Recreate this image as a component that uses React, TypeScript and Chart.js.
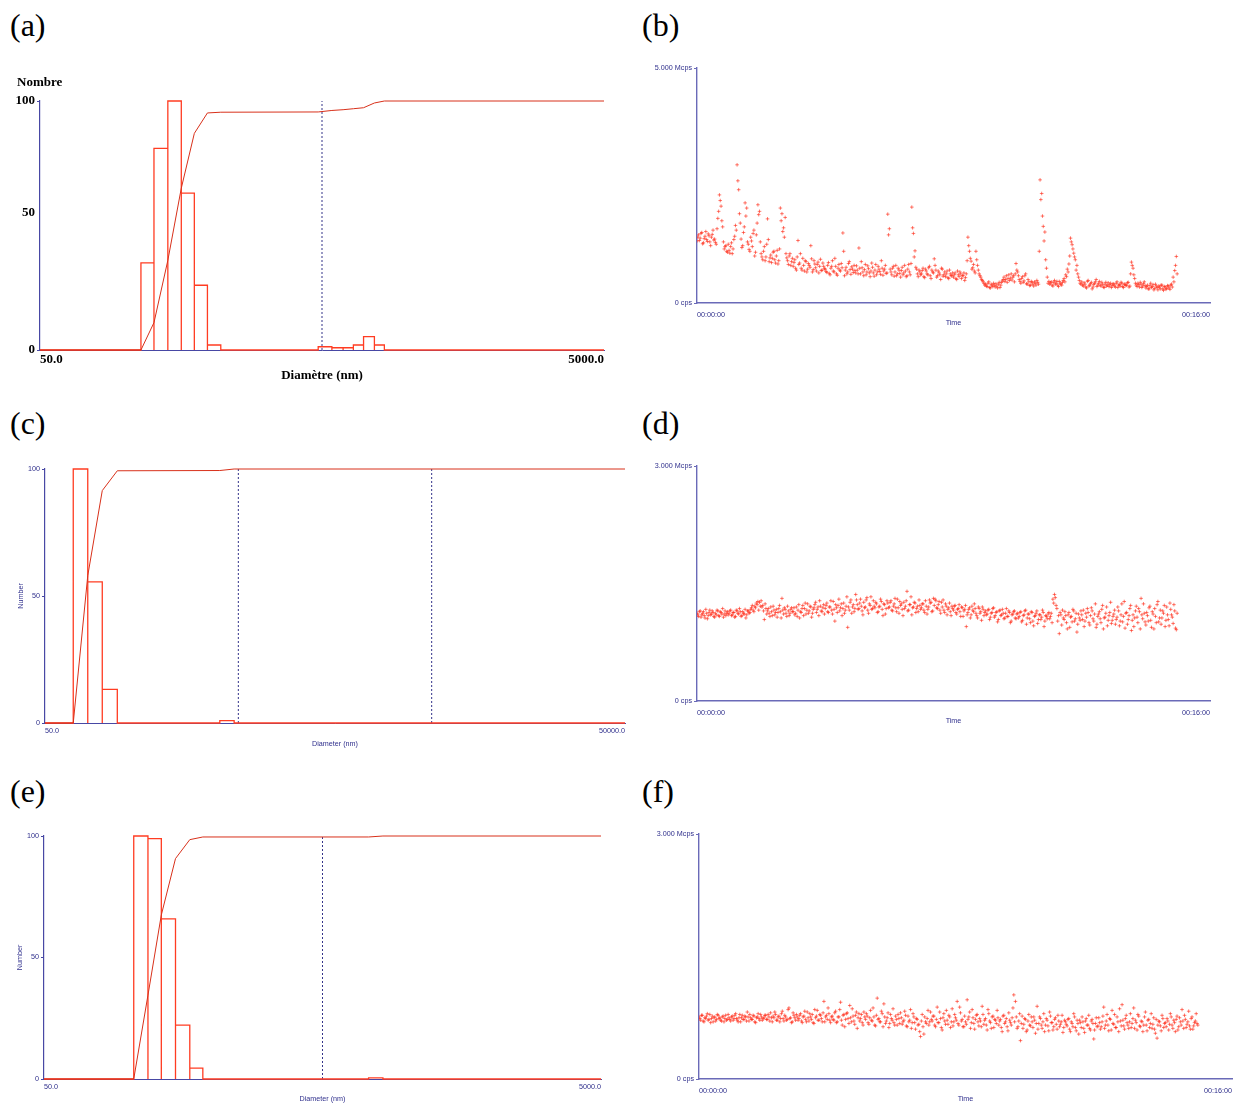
import React, { useEffect, useRef } from 'react';
import { Chart, registerables } from 'chart.js';

Chart.register(...registerables);

// ---------------- colours / fonts ----------------
const AXIS_BLUE = '#4848a4';
const TIME_AXIS_BLUE = '#6a6ab8';
const TEXT_BLUE = '#2f2f8c';
const DASH_BLUE = '#34348a';
const RED_BAR = '#ff3c22';
const RED_CUM = '#d8301a';
const RED_PT = 'rgba(255,42,22,0.62)';
const SANS = '"Liberation Sans", Arial, sans-serif';
const SERIF = '"Liberation Serif", "Times New Roman", serif';
const SMALL_FONT = { family: SANS, size: 7.2 };
const BOLD_SERIF = { family: SERIF, size: 13, weight: 'bold' as const };

// ---------------- panel (a): number distribution ----------------
const aBinLo = [114, 126.8, 142, 158.5, 176.3, 196.2, 484.7, 542, 594, 646, 702, 767];
const aBinHi = [126.8, 142, 158.5, 176.3, 196.2, 218.8, 542, 594, 646, 702, 767, 832];
const aCounts = [35, 81, 100, 63, 26, 2, 1.3, 0.9, 0.9, 2, 5.4, 2];
const aCumX = [50, 114, 126.8, 142, 158.5, 176.3, 196.2, 218.8, 484.7, 542, 594, 646, 702, 767, 832, 5000];
const aCumY = [0, 0, 11, 36, 65, 87, 95.2, 95.5, 95.6, 96.2, 96.5, 96.9, 97.3, 99.2, 100, 100];
const aMarkers = [500];
const aXTicks = [50, 5000];
const aYTicks = [0, 100];
const aMidLabel = '50'; // printed label placed as in the original figure

// ---------------- panel (c) ----------------
const cBinLo = [70, 83.2, 98.9, 401];
const cBinHi = [83.2, 98.9, 118.3, 475.6];
const cCounts = [100, 55.6, 13.2, 0.9];
const cCumX = [50, 70, 83.2, 98.9, 118.3, 401, 475.6, 50000];
const cCumY = [0, 0, 58, 91.5, 99.3, 99.4, 100, 100];
const cMarkers = [500, 5000];
const cXTicks = [50, 50000];
const cYTicks = [0, 50, 100];

// ---------------- panel (e) ----------------
const eBinLo = [105, 118.1, 131.9, 148.3, 166.9, 732];
const eBinHi = [118.1, 131.9, 148.3, 166.9, 185.9, 824];
const eCounts = [100, 98.9, 65.9, 22.2, 4.5, 0.5];
const eCumX = [50, 105, 118.1, 131.9, 148.3, 166.9, 185.9, 732, 824, 5000];
const eCumY = [0, 0, 34.5, 67.5, 90.7, 98.5, 99.6, 99.6, 100, 100];
const eMarkers = [500];
const eXTicks = [50, 5000];
const eYTicks = [0, 50, 100];

// ---------------- count-rate traces (Mcps) ----------------
// two interleaved read-outs, each one value every 3 s (second one offset by 1.5 s)
const SAMPLE_STEP_MIN = 0.05;
const SECOND_OFFSET_MIN = 0.025;
const timeTicks = [0, 16];

const bRate = [
  1.32, 1.45, 1.38, 1.50, 1.28, 1.42, 1.35, 1.47, 1.30, 1.40, 1.55, 1.36, 1.25, 1.80, 2.30, 2.06, 1.62, 1.15, 1.22, 1.08,
  1.12, 1.20, 1.05, 1.35, 1.65, 2.94, 2.41, 1.70, 1.18, 1.50, 2.13, 2.02, 1.25, 1.10, 1.32, 1.48, 1.00, 1.45, 2.09, 1.95,
  1.05, 0.92, 1.20, 0.98, 1.79, 0.88, 1.02, 0.95, 1.10, 0.85, 1.12, 0.90, 2.02, 1.90, 1.60, 1.82, 0.96, 0.82, 1.05, 0.88,
  0.78, 0.92, 0.70, 1.33, 0.85, 0.74, 0.95, 0.68, 0.88, 0.72, 0.80, 1.22, 0.66, 0.90, 0.75, 0.82, 0.64, 0.93, 0.70, 0.78,
  0.72, 0.65, 0.86, 0.60, 0.78, 0.68, 0.95, 0.62, 0.74, 0.70, 0.84, 1.49, 0.58, 0.76, 0.66, 0.88, 0.61, 0.72, 0.80, 0.64,
  0.70, 1.17, 0.62, 0.75, 0.58, 0.82, 0.66, 0.73, 0.56, 0.85, 0.64, 0.70, 0.60, 0.78, 0.67, 0.90, 0.59, 0.72, 0.63, 1.89,
  1.58, 0.66, 0.74, 0.57, 0.80, 0.62, 0.70, 0.55, 0.76, 0.64, 0.68, 0.58, 0.82, 0.60, 2.04, 1.48, 1.11, 0.72, 0.56, 0.66,
  0.62, 0.74, 0.54, 0.68, 0.60, 0.78, 0.52, 0.66, 0.94, 0.70, 0.58, 0.64, 0.50, 0.72, 0.60, 0.56, 0.68, 0.52, 0.62, 0.58,
  0.55, 0.64, 0.50, 0.60, 0.66, 0.52, 0.58, 0.48, 0.62, 1.40, 1.10, 0.89, 0.75, 0.68, 1.10, 0.80, 0.62, 0.55, 0.48, 0.42,
  0.40, 0.35, 0.45, 0.32, 0.38, 0.42, 0.34, 0.36, 0.40, 0.33, 0.44, 0.50, 0.46, 0.58, 0.52, 0.48, 0.62, 0.55, 0.45, 0.84,
  0.66, 0.50, 0.42, 0.56, 0.47, 0.62, 0.40, 0.45, 0.38, 0.44, 0.36, 0.42, 0.48, 0.40, 2.62, 2.33, 1.63, 1.51, 0.74, 0.42,
  0.40, 0.45, 0.36, 0.48, 0.42, 0.38, 0.46, 0.40, 0.44, 0.52, 0.60, 0.72, 0.83, 1.38, 1.24, 1.06, 0.92, 0.80, 0.55, 0.42,
  0.45, 0.36, 0.40, 0.32, 0.48, 0.38, 0.44, 0.34, 0.42, 0.50, 0.38, 0.46, 0.36, 0.40, 0.33, 0.44, 0.38, 0.35, 0.42, 0.37,
  0.40, 0.34, 0.45, 0.38, 0.36, 0.42, 0.33, 0.40, 0.38, 0.44, 0.36, 0.87, 0.74, 0.52, 0.38, 0.42, 0.34, 0.40, 0.36, 0.45,
  0.32, 0.38, 0.30, 0.42, 0.35, 0.28, 0.40, 0.33, 0.36, 0.30, 0.38, 0.27, 0.34, 0.31, 0.36, 0.29, 0.40, 0.55, 0.69, 0.99,
];
const bRate2 = [
  1.40, 1.33, 1.48, 1.26, 1.37, 1.52, 1.31, 1.43, 1.22, 1.46, 1.34, 1.29, 1.58, 1.95, 2.18, 1.75, 1.30, 1.20, 1.10, 1.25,
  1.06, 1.28, 1.15, 1.42, 1.55, 2.60, 1.90, 1.36, 1.22, 1.62, 1.85, 1.30, 1.14, 1.40, 1.20, 1.55, 1.08, 1.70, 1.88, 1.30,
  0.98, 1.10, 0.90, 1.25, 1.35, 0.96, 0.86, 1.08, 0.92, 1.00, 0.83, 1.15, 1.75, 1.52, 1.40, 1.05, 0.90, 1.00, 0.80, 0.95,
  0.86, 0.74, 0.98, 0.82, 1.05, 0.70, 0.80, 0.90, 0.66, 0.84, 0.76, 0.94, 0.71, 0.83, 0.68, 0.87, 0.78, 0.69, 0.85, 0.73,
  0.67, 0.80, 0.63, 0.74, 0.90, 0.66, 0.78, 0.59, 0.82, 0.68, 0.75, 1.10, 0.70, 0.62, 0.84, 0.71, 0.77, 0.65, 0.69, 0.79,
  0.62, 0.74, 0.88, 0.66, 0.71, 0.60, 0.79, 0.64, 0.68, 0.76, 0.57, 0.82, 0.66, 0.72, 0.61, 0.74, 0.68, 0.80, 0.64, 1.45,
  0.72, 0.60, 0.78, 0.66, 0.58, 0.74, 0.63, 0.69, 0.60, 0.80, 0.56, 0.72, 0.66, 0.84, 1.60, 0.98, 0.76, 0.62, 0.70, 0.60,
  0.69, 0.56, 0.72, 0.62, 0.75, 0.58, 0.70, 0.64, 0.80, 0.55, 0.68, 0.60, 0.74, 0.57, 0.66, 0.62, 0.54, 0.70, 0.58, 0.64,
  0.60, 0.52, 0.68, 0.56, 0.62, 0.58, 0.64, 0.54, 0.90, 1.22, 0.95, 0.72, 0.82, 0.64, 0.92, 0.70, 0.58, 0.50, 0.45, 0.38,
  0.36, 0.42, 0.33, 0.40, 0.35, 0.38, 0.41, 0.32, 0.44, 0.38, 0.47, 0.55, 0.50, 0.44, 0.60, 0.53, 0.49, 0.58, 0.62, 0.70,
  0.58, 0.46, 0.52, 0.44, 0.58, 0.41, 0.50, 0.37, 0.46, 0.40, 0.45, 0.38, 0.44, 1.10, 2.20, 1.85, 1.32, 0.92, 0.55, 0.46,
  0.43, 0.38, 0.44, 0.40, 0.46, 0.35, 0.42, 0.38, 0.48, 0.45, 0.56, 0.66, 1.00, 1.30, 1.15, 0.98, 0.70, 0.62, 0.48, 0.40,
  0.38, 0.43, 0.34, 0.46, 0.36, 0.41, 0.30, 0.39, 0.45, 0.35, 0.42, 0.38, 0.44, 0.34, 0.40, 0.36, 0.43, 0.39, 0.33, 0.41,
  0.36, 0.42, 0.33, 0.39, 0.44, 0.35, 0.40, 0.37, 0.43, 0.34, 0.62, 0.80, 0.60, 0.42, 0.35, 0.39, 0.44, 0.33, 0.41, 0.37,
  0.35, 0.30, 0.37, 0.33, 0.39, 0.31, 0.36, 0.28, 0.34, 0.38, 0.30, 0.35, 0.29, 0.37, 0.32, 0.38, 0.34, 0.45, 0.80, 0.62,
];

const dRate = [
  1.12, 1.08, 1.15, 1.10, 1.14, 1.06, 1.12, 1.09, 1.16, 1.11, 1.13, 1.07, 1.10, 1.15, 1.08, 1.13, 1.18, 1.11, 1.09, 1.14,
  1.12, 1.16, 1.10, 1.13, 1.08, 1.15, 1.11, 1.14, 1.09, 1.12, 1.17, 1.10, 1.15, 1.13, 1.19, 1.16, 1.21, 1.25, 1.27, 1.26,
  1.28, 1.22, 1.04, 1.18, 1.15, 1.12, 1.20, 1.09, 1.16, 1.13, 1.07, 1.18, 1.14, 1.31, 1.11, 1.17, 1.08, 1.15, 1.12, 1.19,
  1.14, 1.10, 1.20, 1.16, 1.06, 1.13, 1.22, 1.18, 1.11, 1.24, 1.15, 1.20, 1.12, 1.19, 1.26, 1.17, 1.09, 1.21, 1.14, 1.23,
  1.18, 1.25, 1.13, 1.20, 1.16, 1.27, 1.02, 1.19, 1.22, 1.15, 1.24, 1.18, 1.12, 1.21, 0.94, 1.16, 1.29, 1.20, 1.14, 1.36,
  1.23, 1.18, 1.30, 1.15, 1.26, 1.20, 1.32, 1.12, 1.22, 1.17, 1.28, 1.19, 1.24, 1.14, 1.21, 1.27, 1.09, 1.23, 1.18, 1.25,
  1.20, 1.28, 1.15, 1.24, 1.19, 1.30, 1.12, 1.22, 1.17, 1.26, 1.21, 1.40, 1.16, 1.23, 1.10, 1.20, 1.25, 1.18, 1.14, 1.22,
  1.19, 1.24, 1.13, 1.21, 1.17, 1.29, 1.26, 1.15, 1.22, 1.28, 1.18, 1.27, 1.12, 1.20, 1.16, 1.24, 1.10, 1.19, 1.14, 1.21,
  1.16, 1.22, 1.11, 1.18, 1.14, 1.20, 1.08, 1.17, 0.95, 1.13, 1.19, 1.10, 1.16, 1.24, 1.12, 1.06, 1.18, 1.14, 1.20, 1.09,
  1.15, 1.11, 1.17, 1.07, 1.13, 1.19, 1.09, 1.14, 1.04, 1.16, 1.10, 1.12, 1.06, 1.18, 1.08, 1.13, 1.02, 1.11, 1.15, 1.05,
  1.12, 1.08, 1.14, 1.03, 1.10, 1.16, 1.06, 1.11, 1.00, 1.13, 0.96, 1.09, 1.15, 1.04, 1.10, 1.07, 1.13, 1.02, 1.08, 1.11,
  1.05, 1.12, 1.30, 1.36, 1.22, 1.02, 0.86, 1.10, 1.16, 1.04, 1.09, 0.92, 1.13, 1.07, 1.01, 1.15, 1.05, 0.88, 1.11, 1.03,
  1.10, 1.16, 1.02, 1.07, 1.13, 0.97, 1.19, 1.05, 1.11, 0.94, 1.08, 1.14, 1.00, 1.22, 1.06, 1.12, 0.96, 1.09, 1.26, 1.03,
  1.11, 0.98, 1.07, 1.15, 1.02, 1.24, 1.08, 0.93, 1.13, 1.04, 1.18, 0.90, 1.10, 1.06, 1.21, 1.00, 1.14, 1.31, 1.05, 1.12,
  0.97, 1.09, 1.19, 1.03, 1.14, 0.92, 1.08, 1.23, 1.01, 1.16, 1.06, 1.12, 0.95, 1.20, 1.04, 1.25, 1.10, 0.99, 1.15, 0.91,
];
const dRate2 = [
  1.10, 1.14, 1.07, 1.12, 1.09, 1.17, 1.05, 1.13, 1.10, 1.15, 1.08, 1.12, 1.16, 1.09, 1.14, 1.11, 1.07, 1.15, 1.12, 1.10,
  1.15, 1.09, 1.13, 1.07, 1.16, 1.12, 1.18, 1.08, 1.14, 1.11, 1.06, 1.15, 1.12, 1.17, 1.22, 1.14, 1.19, 1.23, 1.16, 1.21,
  1.20, 1.15, 1.24, 1.11, 1.18, 1.08, 1.14, 1.21, 1.10, 1.17, 1.13, 1.22, 1.06, 1.16, 1.19, 1.12, 1.21, 1.09, 1.17, 1.14,
  1.19, 1.12, 1.08, 1.23, 1.14, 1.18, 1.09, 1.25, 1.16, 1.12, 1.21, 1.07, 1.17, 1.23, 1.13, 1.20, 1.28, 1.15, 1.19, 1.11,
  1.22, 1.14, 1.20, 1.28, 1.11, 1.17, 1.23, 1.13, 1.30, 1.19, 1.09, 1.25, 1.16, 1.33, 1.20, 1.26, 1.12, 1.23, 1.18, 1.29,
  1.17, 1.25, 1.21, 1.10, 1.19, 1.29, 1.16, 1.24, 1.33, 1.18, 1.21, 1.26, 1.13, 1.20, 1.30, 1.17, 1.24, 1.11, 1.28, 1.19,
  1.26, 1.16, 1.21, 1.31, 1.14, 1.19, 1.27, 1.24, 1.09, 1.18, 1.28, 1.15, 1.23, 1.33, 1.19, 1.26, 1.13, 1.21, 1.29, 1.17,
  1.24, 1.16, 1.28, 1.11, 1.20, 1.25, 1.14, 1.31, 1.30, 1.19, 1.23, 1.16, 1.26, 1.29, 1.13, 1.21, 1.17, 1.25, 1.09, 1.18,
  1.21, 1.13, 1.17, 1.23, 1.08, 1.19, 1.15, 1.22, 1.10, 1.17, 1.06, 1.21, 1.14, 1.18, 1.09, 1.20, 1.12, 1.03, 1.17, 1.13,
  1.10, 1.16, 1.04, 1.12, 1.18, 1.07, 1.13, 1.01, 1.15, 1.09, 1.17, 1.05, 1.12, 1.08, 1.15, 1.00, 1.10, 1.14, 1.06, 1.11,
  1.06, 1.13, 1.01, 1.09, 1.15, 0.98, 1.11, 1.05, 1.14, 1.02, 1.08, 1.12, 0.99, 1.10, 1.04, 1.16, 0.95, 1.09, 1.05, 1.13,
  1.08, 1.00, 1.25, 1.32, 1.18, 1.09, 1.13, 0.97, 1.06, 1.14, 1.00, 1.10, 0.94, 1.08, 1.17, 1.02, 1.12, 0.98, 1.06, 1.15,
  1.04, 0.95, 1.12, 1.18, 1.00, 1.09, 1.15, 1.02, 1.24, 0.98, 1.11, 1.05, 1.17, 0.92, 1.07, 1.20, 1.03, 1.13, 0.99, 1.08,
  1.16, 1.04, 1.20, 0.96, 1.10, 1.01, 1.27, 1.12, 0.98, 1.09, 1.22, 1.03, 0.95, 1.15, 1.07, 1.18, 0.92, 1.10, 1.24, 1.01,
  1.13, 1.02, 1.21, 0.94, 1.11, 1.18, 1.00, 1.27, 1.06, 0.98, 1.15, 1.22, 1.03, 1.10, 0.96, 1.17, 1.07, 1.23, 0.93, 1.12,
];

const fRate = [
  0.76, 0.72, 0.78, 0.70, 0.74, 0.80, 0.73, 0.69, 0.77, 0.75, 0.71, 0.79, 0.74, 0.72, 0.76, 0.70, 0.78, 0.73, 0.75, 0.71,
  0.77, 0.74, 0.80, 0.72, 0.75, 0.70, 0.78, 0.73, 0.76, 0.82, 0.71, 0.75, 0.73, 0.77, 0.69, 0.76, 0.74, 0.79, 0.72, 0.75,
  0.78, 0.73, 0.76, 0.81, 0.70, 0.75, 0.79, 0.72, 0.77, 0.74, 0.83, 0.71, 0.76, 0.73, 0.87, 0.75, 0.70, 0.78, 0.72, 0.76,
  0.74, 0.80, 0.69, 0.77, 0.73, 0.82, 0.71, 0.76, 0.79, 0.68, 0.75, 0.84, 0.72, 0.78, 0.70, 0.95, 0.76, 0.73, 0.80, 0.69,
  0.77, 0.72, 0.83, 0.70, 0.76, 0.94, 0.66, 0.79, 0.73, 0.81, 0.68, 0.75, 0.86, 0.71, 0.78, 0.62, 0.80, 0.74, 0.69, 0.82,
  0.73, 0.77, 0.67, 0.84, 0.71, 0.76, 0.65, 0.99, 0.74, 0.70, 0.80, 0.92, 0.68, 0.75, 0.63, 0.79, 0.72, 0.69, 0.77, 0.66,
  0.74, 0.81, 0.67, 0.72, 0.78, 0.64, 0.70, 0.85, 0.69, 0.76, 0.61, 0.73, 0.67, 0.52, 0.79, 0.55, 0.70, 0.74, 0.66, 0.82,
  0.71, 0.77, 0.64, 0.88, 0.69, 0.74, 0.60, 0.80, 0.67, 0.72, 0.78, 0.63, 0.86, 0.70, 0.75, 0.95, 0.66, 0.81, 0.73, 0.64,
  0.70, 0.97, 0.76, 0.62, 0.85, 0.68, 0.73, 0.79, 0.65, 0.71, 0.89, 0.67, 0.74, 0.60, 0.80, 0.69, 0.76, 0.63, 0.72, 0.84,
  0.66, 0.73, 0.58, 0.78, 0.70, 0.64, 0.81, 0.69, 0.75, 1.03, 0.95, 0.62, 0.71, 0.47, 0.77, 0.67, 0.73, 0.60, 0.79, 0.65,
  0.70, 0.76, 0.56, 0.89, 0.68, 0.74, 0.62, 0.80, 0.66, 0.72, 0.59, 0.77, 0.69, 0.64, 0.75, 0.61, 0.71, 0.67, 0.78, 0.63,
  0.70, 0.65, 0.74, 0.58, 0.68, 0.80, 0.63, 0.72, 0.55, 0.69, 0.76, 0.62, 0.71, 0.66, 0.78, 0.60, 0.73, 0.49, 0.68, 0.64,
  0.75, 0.61, 0.70, 0.88, 0.66, 0.79, 0.59, 0.73, 0.84, 0.67, 0.63, 0.76, 0.58, 0.71, 0.91, 0.65, 0.74, 0.69, 0.62, 0.80,
  0.68, 0.87, 0.72, 0.60, 0.77, 0.64, 0.70, 0.66, 0.82, 0.59, 0.73, 0.68, 0.62, 0.75, 0.56, 0.50, 0.71, 0.65, 0.78, 0.63,
  0.69, 0.74, 0.60, 0.80, 0.66, 0.72, 0.58, 0.77, 0.64, 0.70, 0.85, 0.62, 0.73, 0.67, 0.83, 0.61, 0.76, 0.65, 0.71, 0.68,
];
const fRate2 = [
  0.74, 0.78, 0.71, 0.75, 0.77, 0.72, 0.79, 0.74, 0.70, 0.76, 0.73, 0.78, 0.75, 0.71, 0.77, 0.74, 0.72, 0.79, 0.73, 0.76,
  0.72, 0.78, 0.74, 0.70, 0.79, 0.75, 0.73, 0.77, 0.71, 0.76, 0.79, 0.73, 0.78, 0.70, 0.75, 0.80, 0.72, 0.76, 0.74, 0.78,
  0.73, 0.79, 0.71, 0.75, 0.77, 0.82, 0.72, 0.76, 0.70, 0.80, 0.74, 0.78, 0.72, 0.85, 0.74, 0.69, 0.81, 0.75, 0.79, 0.72,
  0.78, 0.71, 0.76, 0.83, 0.70, 0.75, 0.80, 0.73, 0.69, 0.85, 0.77, 0.72, 0.79, 0.74, 0.81, 0.70, 0.78, 0.87, 0.72, 0.76,
  0.73, 0.81, 0.69, 0.76, 0.85, 0.72, 0.78, 0.64, 0.80, 0.74, 0.90, 0.70, 0.77, 0.67, 0.82, 0.75, 0.71, 0.79, 0.66, 0.76,
  0.80, 0.69, 0.75, 0.72, 0.87, 0.66, 0.78, 0.73, 0.70, 0.83, 0.64, 0.76, 0.71, 0.81, 0.68, 0.74, 0.86, 0.66, 0.73, 0.79,
  0.68, 0.75, 0.70, 0.83, 0.65, 0.77, 0.72, 0.62, 0.80, 0.69, 0.74, 0.66, 0.58, 0.71, 0.64, 0.76, 0.68, 0.84, 0.70, 0.73,
  0.77, 0.66, 0.73, 0.69, 0.82, 0.63, 0.75, 0.71, 0.84, 0.67, 0.76, 0.70, 0.65, 0.79, 0.72, 0.68, 0.88, 0.71, 0.64, 0.77,
  0.67, 0.73, 0.82, 0.69, 0.75, 0.61, 0.78, 0.70, 0.74, 0.64, 0.79, 0.72, 0.66, 0.85, 0.71, 0.62, 0.77, 0.73, 0.68, 0.75,
  0.71, 0.63, 0.77, 0.68, 0.74, 0.59, 0.72, 0.66, 0.87, 0.70, 0.76, 0.64, 0.80, 0.68, 0.62, 0.74, 0.58, 0.71, 0.66, 0.76,
  0.63, 0.72, 0.68, 0.61, 0.76, 0.66, 0.70, 0.58, 0.74, 0.65, 0.82, 0.69, 0.60, 0.73, 0.67, 0.78, 0.64, 0.70, 0.57, 0.72,
  0.67, 0.73, 0.61, 0.70, 0.64, 0.76, 0.59, 0.68, 0.72, 0.63, 0.70, 0.57, 0.74, 0.66, 0.62, 0.71, 0.68, 0.60, 0.75, 0.65,
  0.69, 0.64, 0.77, 0.62, 0.71, 0.66, 0.74, 0.60, 0.68, 0.79, 0.63, 0.70, 0.86, 0.65, 0.72, 0.61, 0.78, 0.66, 0.70, 0.63,
  0.74, 0.62, 0.69, 0.79, 0.65, 0.71, 0.58, 0.76, 0.66, 0.72, 0.63, 0.80, 0.67, 0.61, 0.73, 0.66, 0.70, 0.59, 0.74, 0.68,
  0.64, 0.71, 0.67, 0.76, 0.62, 0.69, 0.73, 0.60, 0.75, 0.66, 0.71, 0.78, 0.63, 0.70, 0.65, 0.74, 0.61, 0.69, 0.80, 0.66,
];

// ---------------- helpers building library data tables ----------------
type Pt = { x: number; y: number };

function histOutline(lo: number[], hi: number[], h: number[], xmin: number, xmax: number): Pt[] {
  const pts: Pt[] = [{ x: xmin, y: 0 }];
  let prev = xmin;
  for (let i = 0; i < lo.length; i++) {
    if (lo[i] !== prev) pts.push({ x: lo[i], y: 0 });
    pts.push({ x: lo[i], y: h[i] });
    pts.push({ x: hi[i], y: h[i] });
    pts.push({ x: hi[i], y: 0 });
    prev = hi[i];
  }
  pts.push({ x: xmax, y: 0 });
  return pts;
}
const pairs = (xs: number[], ys: number[]): Pt[] => xs.map((x, i) => ({ x, y: ys[i] }));
const series = (vals: number[], offset: number): Pt[] => vals.map((v, i) => ({ x: offset + i * SAMPLE_STEP_MIN, y: v }));

type TextItem = { text: string; dx: number; dy: number; font: string; color: string };
const textPlugin = (items: TextItem[]) => ({
  id: 'panelText',
  afterDraw(chart: any) {
    const { ctx, chartArea } = chart;
    ctx.save();
    for (const it of items) {
      ctx.font = it.font;
      ctx.fillStyle = it.color;
      ctx.textAlign = 'left';
      ctx.textBaseline = 'middle';
      ctx.fillText(it.text, chartArea.left + it.dx, chartArea.top + it.dy);
    }
    ctx.restore();
  },
});

const fmtTime = (v: number) => `00:${String(Math.round(v)).padStart(2, '0')}:00`;

interface HistSpec {
  lo: number[]; hi: number[]; counts: number[];
  cumX: number[]; cumY: number[]; markers: number[];
  xTicks: number[]; yTicks: number[];
  padding: { left: number; right: number; top: number; bottom: number };
  yWidth: number; xHeight: number;
  tickFont: any; tickColor: string; titleFont: any;
  xTickLen: number; xTickPad: number;
  xTitle: string; yTitle?: string; yTitlePad?: number;
  extra?: TextItem[];
}

function histConfig(s: HistSpec): any {
  const xMin = s.xTicks[0];
  const xMax = s.xTicks[s.xTicks.length - 1];
  const yMax = s.yTicks[s.yTicks.length - 1];
  const datasets: any[] = s.markers.map((m) => ({
    data: [{ x: m, y: 0 }, { x: m, y: yMax }],
    showLine: true, borderColor: DASH_BLUE, borderWidth: 1, borderDash: [2, 2], pointRadius: 0, order: 3,
  }));
  datasets.push({
    data: histOutline(s.lo, s.hi, s.counts, xMin, xMax),
    showLine: true, borderColor: RED_BAR, borderWidth: 1.3, pointRadius: 0, clip: 4, order: 2,
  });
  datasets.push({
    data: pairs(s.cumX, s.cumY),
    showLine: true, borderColor: RED_CUM, borderWidth: 1, pointRadius: 0, clip: 4, order: 1,
  });
  return {
    type: 'scatter',
    data: { datasets },
    options: {
      animation: false, responsive: false, devicePixelRatio: 1, events: [],
      layout: { padding: s.padding },
      plugins: { legend: { display: false }, tooltip: { enabled: false } },
      scales: {
        x: {
          type: 'logarithmic', min: xMin, max: xMax,
          afterBuildTicks: (sc: any) => { sc.ticks = s.xTicks.map((value) => ({ value })); },
          afterFit: (sc: any) => { sc.height = s.xHeight; },
          grid: { display: true, drawOnChartArea: false, drawTicks: true, tickLength: s.xTickLen, color: 'rgba(0,0,0,0)' },
          border: { display: true, color: AXIS_BLUE, width: 1 },
          ticks: {
            align: 'inner', padding: s.xTickPad, font: s.tickFont, color: s.tickColor,
            maxRotation: 0, autoSkip: false, callback: (v: any) => Number(v).toFixed(1),
          },
          title: { display: true, text: s.xTitle, font: s.titleFont, color: s.tickColor, padding: { top: 0, bottom: 0 } },
        },
        y: {
          min: 0, max: yMax,
          afterBuildTicks: (sc: any) => { sc.ticks = s.yTicks.map((value) => ({ value })); },
          afterFit: (sc: any) => { sc.width = s.yWidth; },
          grid: { display: true, drawOnChartArea: false, drawTicks: true, tickLength: 3, color: AXIS_BLUE },
          border: { display: true, color: AXIS_BLUE, width: 1.2 },
          ticks: { padding: 2, font: s.tickFont, color: s.tickColor, autoSkip: false, callback: (v: any) => String(v) },
          title: s.yTitle
            ? { display: true, text: s.yTitle, font: s.titleFont, color: s.tickColor, padding: { top: s.yTitlePad ?? 0, bottom: 0 } }
            : { display: false },
        },
      },
    },
    plugins: s.extra ? [textPlugin(s.extra)] : [],
  };
}

interface TimeSpec {
  values: number[]; values2: number[]; yMax: number;
  padding: { left: number; right: number; top: number; bottom: number };
  yWidth: number; xHeight: number;
}

const pointStyleOpts = {
  pointStyle: 'cross', pointRadius: 1.8, pointBorderWidth: 1,
  pointBorderColor: RED_PT, borderColor: RED_PT, backgroundColor: RED_PT,
};

function timeConfig(s: TimeSpec): any {
  return {
    type: 'scatter',
    data: {
      datasets: [
        { data: series(s.values, 0), ...pointStyleOpts },
        { data: series(s.values2, SECOND_OFFSET_MIN), ...pointStyleOpts },
      ],
    },
    options: {
      animation: false, responsive: false, devicePixelRatio: 1, events: [],
      layout: { padding: s.padding },
      plugins: { legend: { display: false }, tooltip: { enabled: false } },
      scales: {
        x: {
          type: 'linear', min: timeTicks[0], max: timeTicks[timeTicks.length - 1],
          afterBuildTicks: (sc: any) => { sc.ticks = timeTicks.map((value) => ({ value })); },
          afterFit: (sc: any) => { sc.height = s.xHeight; },
          grid: { display: true, drawOnChartArea: false, drawTicks: true, tickLength: 6, color: 'rgba(0,0,0,0)' },
          border: { display: true, color: TIME_AXIS_BLUE, width: 1.4 },
          ticks: { align: 'inner', padding: 2, font: SMALL_FONT, color: TEXT_BLUE, maxRotation: 0, autoSkip: false, callback: (v: any) => fmtTime(Number(v)) },
          title: { display: true, text: 'Time', font: SMALL_FONT, color: TEXT_BLUE, padding: { top: 0, bottom: 0 } },
        },
        y: {
          min: 0, max: s.yMax,
          afterBuildTicks: (sc: any) => { sc.ticks = [{ value: 0 }, { value: s.yMax }]; },
          afterFit: (sc: any) => { sc.width = s.yWidth; },
          grid: { display: true, drawOnChartArea: false, drawTicks: true, tickLength: 3, color: TIME_AXIS_BLUE },
          border: { display: true, color: TIME_AXIS_BLUE, width: 1.4 },
          ticks: {
            padding: 2, font: SMALL_FONT, color: TEXT_BLUE, autoSkip: false,
            callback: (v: any) => (Number(v) === 0 ? '0 cps' : `${Number(v).toFixed(3)} Mcps`),
          },
        },
      },
    },
  };
}

// ---------------- components ----------------
function ChartCanvas({ left, top, width, height, build }: { left: number; top: number; width: number; height: number; build: () => any }) {
  const ref = useRef<HTMLCanvasElement>(null);
  useEffect(() => {
    const chart = new Chart(ref.current as HTMLCanvasElement, build());
    return () => chart.destroy();
  }, []);
  return (
    <canvas ref={ref} width={width} height={height}
      style={{ position: 'absolute', left, top, width, height, display: 'block' }} />
  );
}

function Letter({ text, left, top }: { text: string; left: number; top: number }) {
  return (
    <div style={{ position: 'absolute', left, top, fontFamily: SERIF, fontSize: 32, lineHeight: '32px', color: '#000' }}>{text}</div>
  );
}

const smallHist = { tickFont: SMALL_FONT, tickColor: TEXT_BLUE, titleFont: SMALL_FONT };
const boldSerifCss = `bold 13px ${SERIF}`;

export default function App() {
  return (
    <div style={{ position: 'absolute', left: 0, top: 0, width: 1237, height: 1104, background: '#ffffff', overflow: 'hidden' }}>
      <Letter text="(a)" left={10} top={9} />
      <Letter text="(b)" left={642} top={9} />
      <Letter text="(c)" left={10} top={407} />
      <Letter text="(d)" left={642} top={407} />
      <Letter text="(e)" left={10} top={775} />
      <Letter text="(f)" left={642} top={775} />

      <ChartCanvas left={0} top={60} width={625} height={330} build={() => histConfig({
        lo: aBinLo, hi: aBinHi, counts: aCounts, cumX: aCumX, cumY: aCumY, markers: aMarkers,
        xTicks: aXTicks, yTicks: aYTicks,
        padding: { left: 8, right: 21, top: 41, bottom: 7 }, yWidth: 32, xHeight: 33,
        tickFont: BOLD_SERIF, tickColor: '#000000', titleFont: BOLD_SERIF,
        xTickLen: 0, xTickPad: 2, xTitle: 'Diamètre (nm)',
        extra: [
          { text: 'Nombre', dx: -23, dy: -18, font: boldSerifCss, color: '#000000' },
          { text: aMidLabel, dx: -18, dy: 112, font: boldSerifCss, color: '#000000' },
        ],
      })} />

      <ChartCanvas left={640} top={55} width={597} height={280} build={() => timeConfig({
        values: bRate, values2: bRate2, yMax: 5, padding: { left: 2, right: 27, top: 13, bottom: 8 }, yWidth: 55, xHeight: 24,
      })} />

      <ChartCanvas left={0} top={455} width={640} height={300} build={() => histConfig({
        lo: cBinLo, hi: cBinHi, counts: cCounts, cumX: cCumX, cumY: cCumY, markers: cMarkers,
        xTicks: cXTicks, yTicks: cYTicks,
        padding: { left: 8, right: 15, top: 14, bottom: 7 }, yWidth: 37, xHeight: 25,
        ...smallHist, xTickLen: 2, xTickPad: 2, xTitle: 'Diameter (nm)', yTitle: 'Number', yTitlePad: 8.7,
      })} />

      <ChartCanvas left={640} top={453} width={597} height={280} build={() => timeConfig({
        values: dRate, values2: dRate2, yMax: 3, padding: { left: 2, right: 27, top: 13, bottom: 8 }, yWidth: 55, xHeight: 24,
      })} />

      <ChartCanvas left={0} top={825} width={620} height={279} build={() => histConfig({
        lo: eBinLo, hi: eBinHi, counts: eCounts, cumX: eCumX, cumY: eCumY, markers: eMarkers,
        xTicks: eXTicks, yTicks: eYTicks,
        padding: { left: 8, right: 19, top: 11, bottom: 1 }, yWidth: 36, xHeight: 24,
        ...smallHist, xTickLen: 2, xTickPad: 2, xTitle: 'Diameter (nm)', yTitle: 'Number', yTitlePad: 7.7,
      })} />

      <ChartCanvas left={640} top={821} width={597} height={283} build={() => timeConfig({
        values: fRate, values2: fRate2, yMax: 3, padding: { left: 2, right: 5, top: 13, bottom: 1 }, yWidth: 57, xHeight: 24,
      })} />
    </div>
  );
}
